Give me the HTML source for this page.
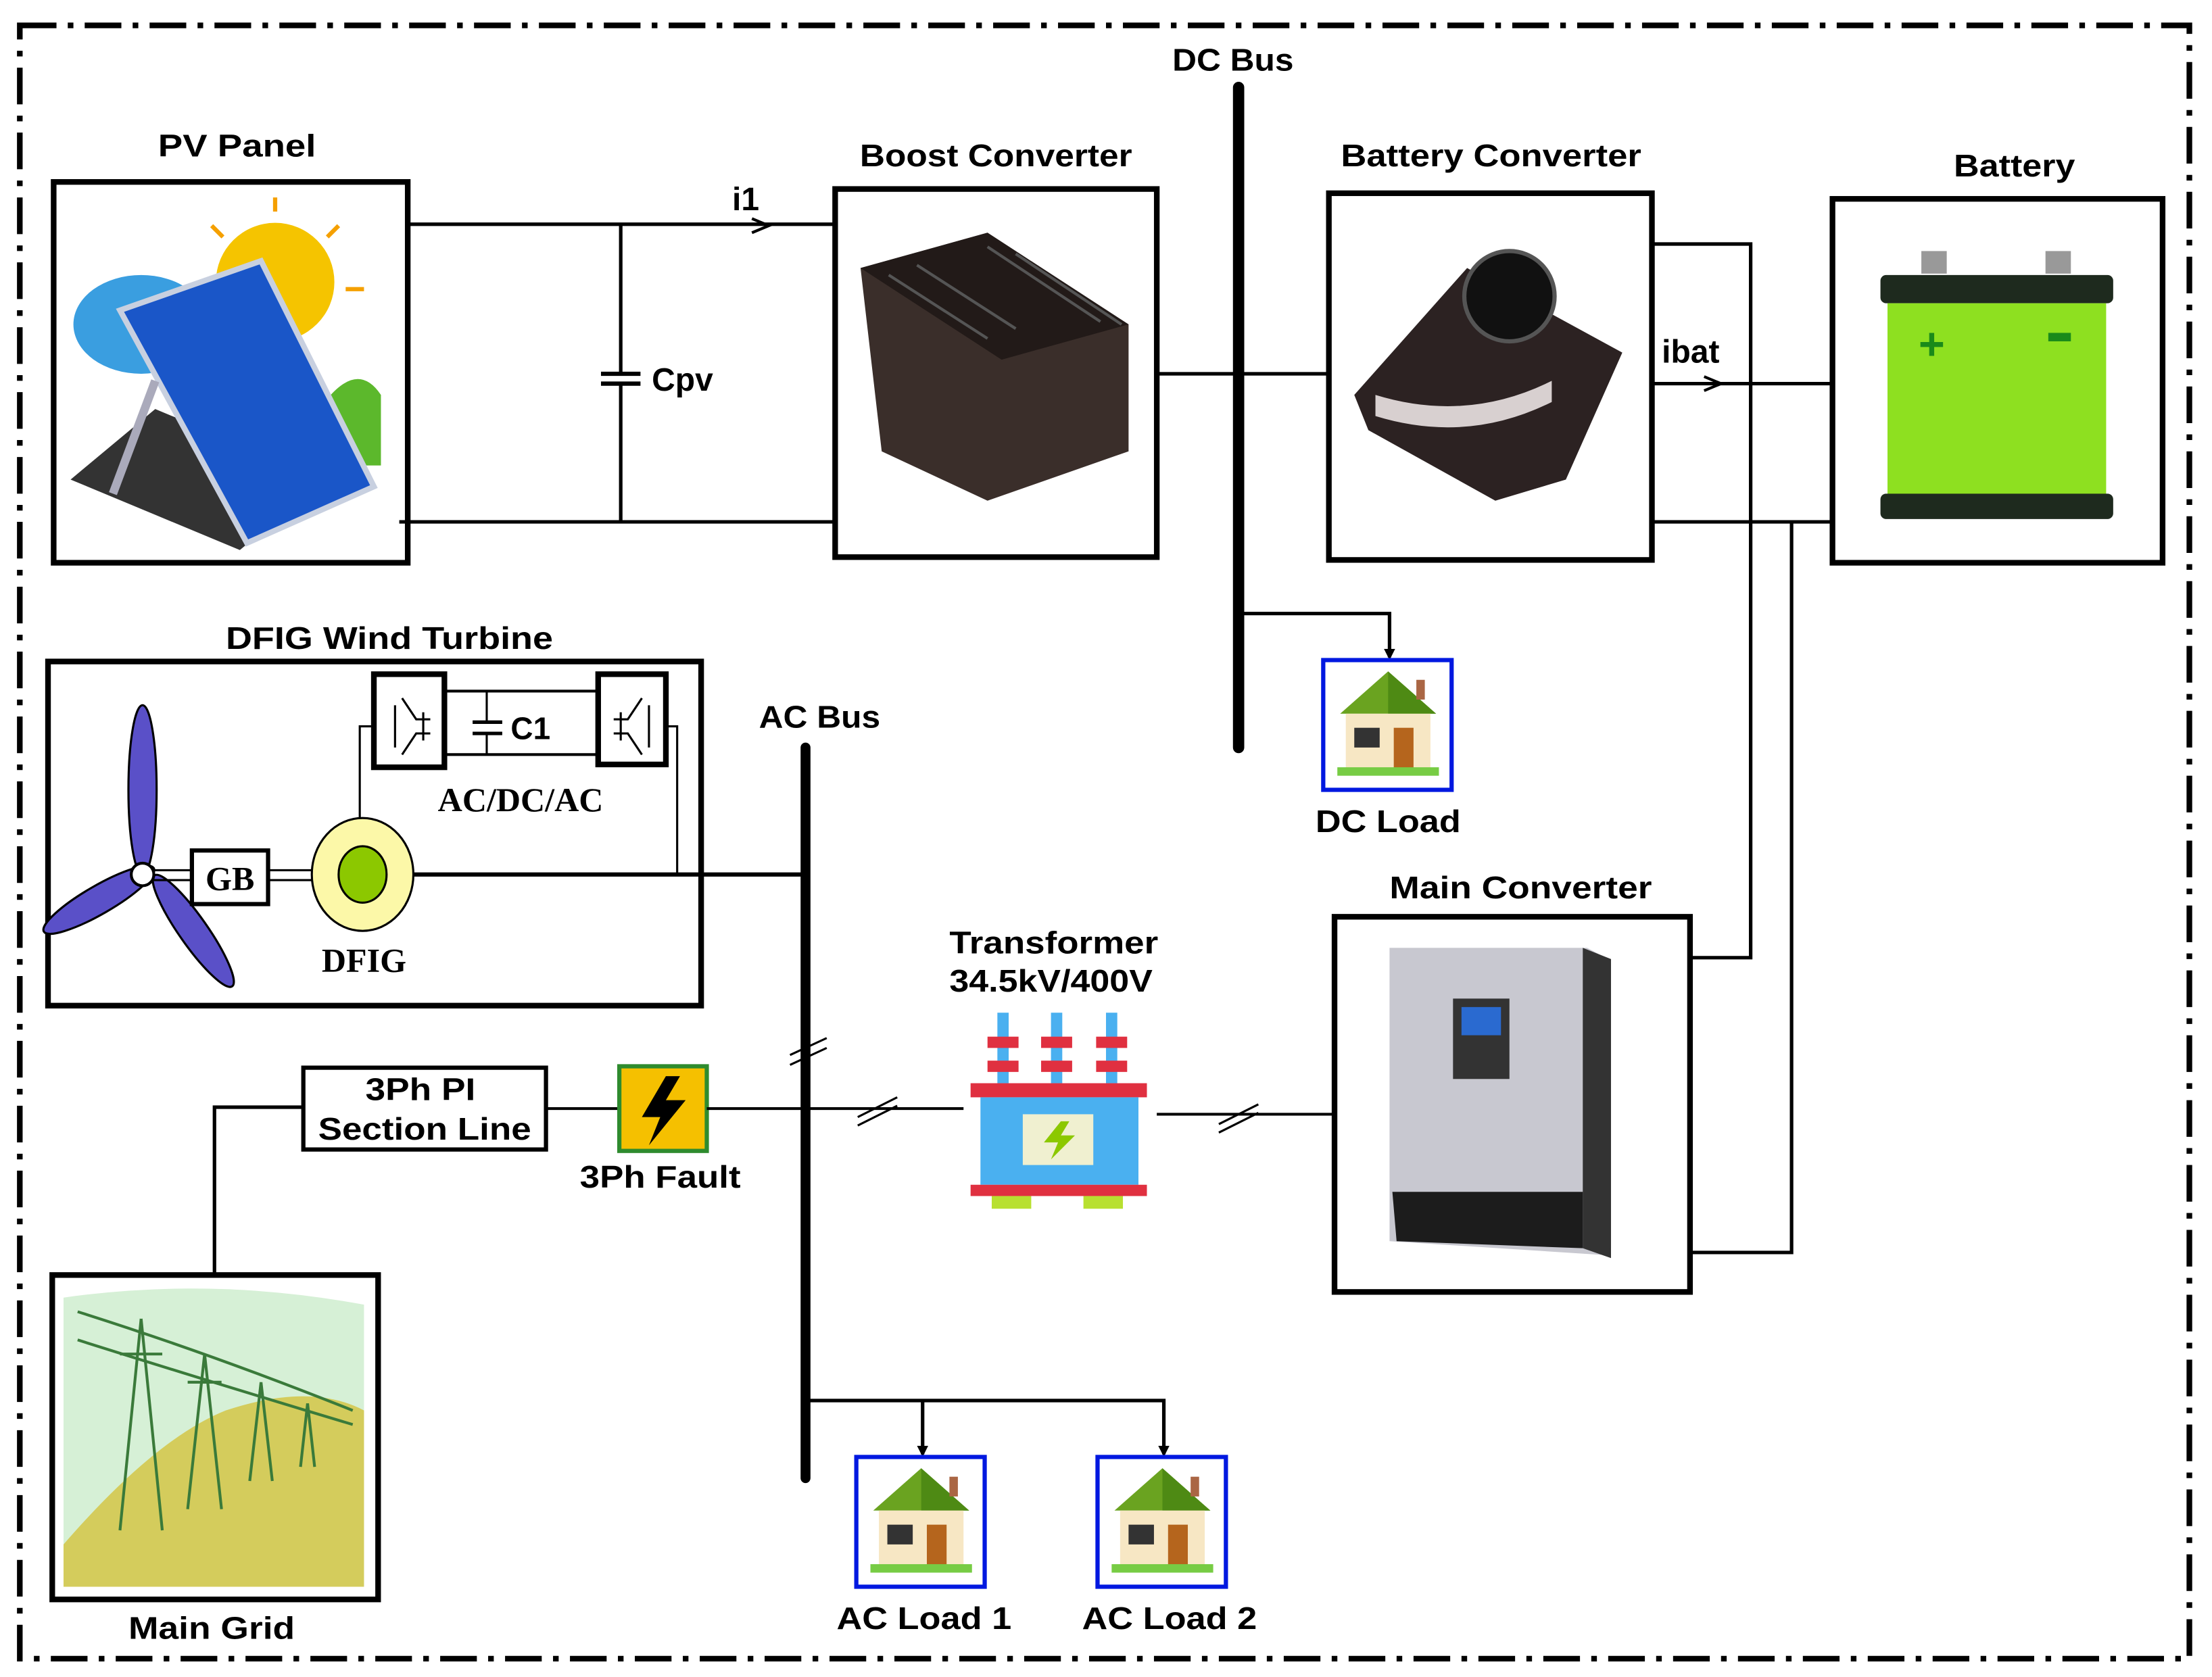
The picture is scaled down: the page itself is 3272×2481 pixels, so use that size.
<!DOCTYPE html>
<html><head><meta charset="utf-8"><style>
html,body{margin:0;padding:0;background:#fff;}
svg{display:block;}
text{font-family:"Liberation Sans",sans-serif;font-weight:bold;fill:#000;}
</style></head><body>
<svg width="3272" height="2481" viewBox="0 0 1568 1189" xmlns="http://www.w3.org/2000/svg">
<defs>
<marker id="ar" markerWidth="8" markerHeight="8" refX="6" refY="4" orient="auto" markerUnits="userSpaceOnUse"><path d="M0,0 L8,4 L0,8 z" fill="#000"/></marker>
<g id="house">
<rect x="0" y="0" width="91" height="92" fill="#fff" stroke="#0018e0" stroke-width="3"/>
<polygon points="46,8 12,38 80,38" fill="#6aa320"/>
<polygon points="46,8 46,38 80,38" fill="#4e8a14"/>
<rect x="66" y="14" width="6" height="14" fill="#a64"/>
<rect x="16" y="38" width="60" height="40" fill="#f7e7c4"/>
<rect x="22" y="48" width="18" height="14" fill="#333"/>
<rect x="50" y="48" width="14" height="30" fill="#b5651d"/>
<rect x="10" y="76" width="72" height="6" fill="#7c4"/>
</g>
</defs>
<rect x="14" y="18" width="1538" height="1158" fill="none" stroke="#000" stroke-width="4" stroke-dasharray="26,8,4,8"/>

<text x="168" y="111" font-size="22" text-anchor="middle" textLength="112" lengthAdjust="spacingAndGlyphs">PV Panel</text>
<rect x="38" y="129" width="251" height="270" fill="#fff" stroke="#000" stroke-width="4"/>
<circle cx="195" cy="200" r="42" fill="#f5c400"/>
<g stroke="#f5a000" stroke-width="3"><line x1="195" y1="140" x2="195" y2="150"/><line x1="240" y1="160" x2="232" y2="168"/><line x1="258" y1="205" x2="245" y2="205"/><line x1="150" y1="160" x2="158" y2="168"/></g>
<ellipse cx="100" cy="230" rx="48" ry="35" fill="#3a9ee0"/>
<path d="M220,300 Q250,250 270,280 L270,330 L220,330z" fill="#5cb82c"/>
<polygon points="50,340 110,290 230,340 170,390" fill="#333"/>
<polygon points="85,220 185,185 265,345 175,385" fill="#1a56c8" stroke="#c8d0e0" stroke-width="4"/>
<line x1="110" y1="270" x2="80" y2="350" stroke="#aab" stroke-width="6"/>

<line x1="289" y1="159" x2="592" y2="159" stroke="#000" stroke-width="2.5"/>
<line x1="283" y1="370" x2="592" y2="370" stroke="#000" stroke-width="2.5"/>
<line x1="440" y1="159" x2="440" y2="265" stroke="#000" stroke-width="2.5"/>
<line x1="440" y1="272" x2="440" y2="370" stroke="#000" stroke-width="2.5"/>
<line x1="426" y1="265" x2="454" y2="265" stroke="#000" stroke-width="3"/>
<line x1="426" y1="272" x2="454" y2="272" stroke="#000" stroke-width="3"/>
<text x="462" y="277" font-size="23">Cpv</text>
<text x="519" y="149" font-size="23">i1</text>
<path d="M533,155 L545,160 L533,165" fill="none" stroke="#000" stroke-width="2"/>

<text x="706" y="118" font-size="22" text-anchor="middle" textLength="193" lengthAdjust="spacingAndGlyphs">Boost Converter</text>
<rect x="592" y="134" width="228" height="261" fill="#fff" stroke="#000" stroke-width="4"/>
<polygon points="610,190 700,165 800,230 800,320 700,355 625,320" fill="#3a2e2a"/>
<polygon points="610,190 700,165 800,230 710,255" fill="#221a18"/>
<g stroke="#555" stroke-width="2"><line x1="630" y1="195" x2="700" y2="240"/><line x1="650" y1="188" x2="720" y2="233"/><line x1="700" y1="175" x2="780" y2="228"/><line x1="720" y1="180" x2="795" y2="230"/></g>

<text x="874" y="50" font-size="22" text-anchor="middle" textLength="86" lengthAdjust="spacingAndGlyphs">DC Bus</text>
<line x1="878" y1="62" x2="878" y2="530" stroke="#000" stroke-width="8" stroke-linecap="round"/>
<line x1="820" y1="265" x2="942" y2="265" stroke="#000" stroke-width="2.5"/>

<text x="1057" y="118" font-size="22" text-anchor="middle" textLength="213" lengthAdjust="spacingAndGlyphs">Battery Converter</text>
<rect x="942" y="137" width="229" height="260" fill="#fff" stroke="#000" stroke-width="4"/>
<polygon points="960,280 1040,190 1150,250 1110,340 1060,355 970,305" fill="#2c2222"/>
<circle cx="1070" cy="210" r="32" fill="#111" stroke="#555" stroke-width="3"/>
<path d="M975,280 Q1040,300 1100,270 L1100,285 Q1040,315 975,295z" fill="#d8d0d0"/>

<polyline points="1171,173 1241,173 1241,679 1198,679" fill="none" stroke="#000" stroke-width="2.5"/>
<line x1="1171" y1="272" x2="1303" y2="272" stroke="#000" stroke-width="2.5"/>
<line x1="1171" y1="370" x2="1303" y2="370" stroke="#000" stroke-width="2.5"/>
<polyline points="1270,370 1270,888 1198,888" fill="none" stroke="#000" stroke-width="2.5"/>
<text x="1178" y="257" font-size="23">ibat</text>
<path d="M1208,267 L1220,272 L1208,277" fill="none" stroke="#000" stroke-width="2"/>

<text x="1428" y="125" font-size="22" text-anchor="middle" textLength="86" lengthAdjust="spacingAndGlyphs">Battery</text>
<rect x="1299" y="141" width="234" height="258" fill="#fff" stroke="#000" stroke-width="4"/>
<rect x="1362" y="178" width="18" height="16" fill="#999"/>
<rect x="1450" y="178" width="18" height="16" fill="#999"/>
<rect x="1333" y="195" width="165" height="20" rx="4" fill="#1e2a1e"/>
<rect x="1338" y="215" width="155" height="136" fill="#8ee020"/>
<rect x="1333" y="350" width="165" height="18" rx="4" fill="#1e2a1e"/>
<text x="1360" y="255" font-size="32" style="fill:#1a8a1a">+</text>
<rect x="1452" y="236" width="16" height="6" fill="#1a8a1a"/>

<polyline points="878,435 985,435 985,466" fill="none" stroke="#000" stroke-width="2.5" marker-end="url(#ar)"/>
<use href="#house" x="938" y="468"/>
<text x="984" y="590" font-size="22" text-anchor="middle" textLength="103" lengthAdjust="spacingAndGlyphs">DC Load</text>

<text x="276" y="460" font-size="22" text-anchor="middle" textLength="232" lengthAdjust="spacingAndGlyphs">DFIG Wind Turbine</text>
<rect x="34" y="469" width="463" height="244" fill="#fff" stroke="#000" stroke-width="4"/>
<rect x="265" y="478" width="50" height="66" fill="#fff" stroke="#000" stroke-width="4"/>
<rect x="424" y="478" width="48" height="64" fill="#fff" stroke="#000" stroke-width="4"/>
<line x1="315" y1="490" x2="424" y2="490" stroke="#000" stroke-width="2"/>
<line x1="315" y1="535" x2="424" y2="535" stroke="#000" stroke-width="2"/>
<line x1="345" y1="490" x2="345" y2="512" stroke="#000" stroke-width="1.5"/>
<line x1="345" y1="520" x2="345" y2="535" stroke="#000" stroke-width="1.5"/>
<line x1="335" y1="512" x2="356" y2="512" stroke="#000" stroke-width="2.5"/>
<line x1="335" y1="520" x2="356" y2="520" stroke="#000" stroke-width="2.5"/>
<text x="362" y="524" font-size="22">C1</text>
<text x="369" y="575" font-size="24" text-anchor="middle" style="font-family:'Liberation Serif',serif">AC/DC/AC</text>
<polyline points="265,515 255,515 255,590" fill="none" stroke="#000" stroke-width="1.5"/>
<polyline points="472,515 480,515 480,620" fill="none" stroke="#000" stroke-width="1.5"/>
<path d="M280,500 L280,530 M285,495 L295,510 L305,510 M285,535 L295,520 L305,520 M300,505 L300,525" stroke="#000" stroke-width="1.5" fill="none"/>
<path d="M460,500 L460,530 M455,495 L445,510 L435,510 M455,535 L445,520 L435,520 M440,505 L440,525" stroke="#000" stroke-width="1.5" fill="none"/>
<ellipse cx="101" cy="560" rx="10" ry="60" fill="#5a50c8" stroke="#000" stroke-width="1.5"/>
<ellipse cx="70" cy="638" rx="10" ry="45" transform="rotate(60 70 638)" fill="#5a50c8" stroke="#000" stroke-width="1.5"/>
<ellipse cx="137" cy="660" rx="10" ry="48" transform="rotate(-35 137 660)" fill="#5a50c8" stroke="#000" stroke-width="1.5"/>
<circle cx="101" cy="620" r="8" fill="#fff" stroke="#000" stroke-width="2"/>
<line x1="109" y1="617" x2="136" y2="617" stroke="#000" stroke-width="1.5"/>
<line x1="109" y1="624" x2="136" y2="624" stroke="#000" stroke-width="1.5"/>
<rect x="136" y="603" width="54" height="38" fill="#fff" stroke="#000" stroke-width="3"/>
<text x="163" y="631" font-size="24" text-anchor="middle" style="font-family:'Liberation Serif',serif">GB</text>
<line x1="190" y1="617" x2="222" y2="617" stroke="#000" stroke-width="1.5"/>
<line x1="190" y1="624" x2="222" y2="624" stroke="#000" stroke-width="1.5"/>
<ellipse cx="257" cy="620" rx="36" ry="40" fill="#fcf8a8" stroke="#000" stroke-width="1.5"/>
<ellipse cx="257" cy="620" rx="17" ry="20" fill="#8cc800" stroke="#000" stroke-width="1.5"/>
<text x="258" y="689" font-size="24" text-anchor="middle" style="font-family:'Liberation Serif',serif">DFIG</text>

<text x="581" y="516" font-size="22" text-anchor="middle" textLength="86" lengthAdjust="spacingAndGlyphs">AC Bus</text>
<line x1="571" y1="530" x2="571" y2="1048" stroke="#000" stroke-width="7" stroke-linecap="round"/>
<line x1="293" y1="620" x2="571" y2="620" stroke="#000" stroke-width="3"/>
<line x1="560" y1="748" x2="586" y2="736" stroke="#000" stroke-width="1.5"/>
<line x1="560" y1="755" x2="586" y2="743" stroke="#000" stroke-width="1.5"/>

<rect x="215" y="757" width="172" height="58" fill="#fff" stroke="#000" stroke-width="3"/>
<text x="298" y="780" font-size="22" text-anchor="middle" textLength="78" lengthAdjust="spacingAndGlyphs">3Ph PI</text>
<text x="301" y="808" font-size="22" text-anchor="middle" textLength="151" lengthAdjust="spacingAndGlyphs">Section Line</text>
<polyline points="215,785 152,785 152,905" fill="none" stroke="#000" stroke-width="2.5"/>
<line x1="387" y1="786" x2="438" y2="786" stroke="#000" stroke-width="2"/>
<rect x="439" y="756" width="62" height="60" fill="#f5c000" stroke="#2e8b2e" stroke-width="3"/>
<polygon points="472,763 455,792 468,792 460,812 486,780 472,780 482,763" fill="#000"/>
<text x="468" y="842" font-size="22" text-anchor="middle" textLength="114" lengthAdjust="spacingAndGlyphs">3Ph Fault</text>
<line x1="501" y1="786" x2="683" y2="786" stroke="#000" stroke-width="2"/>
<line x1="608" y1="792" x2="636" y2="778" stroke="#000" stroke-width="1.5"/>
<line x1="608" y1="798" x2="636" y2="784" stroke="#000" stroke-width="1.5"/>

<text x="747" y="676" font-size="22" text-anchor="middle" textLength="148" lengthAdjust="spacingAndGlyphs">Transformer</text>
<text x="745" y="703" font-size="22" text-anchor="middle" textLength="144" lengthAdjust="spacingAndGlyphs">34.5kV/400V</text>
<g>
<rect x="707" y="718" width="8" height="50" fill="#4ab0f0"/><rect x="745" y="718" width="8" height="50" fill="#4ab0f0"/><rect x="784" y="718" width="8" height="50" fill="#4ab0f0"/>
<rect x="700" y="735" width="22" height="8" fill="#e03040"/><rect x="738" y="735" width="22" height="8" fill="#e03040"/><rect x="777" y="735" width="22" height="8" fill="#e03040"/>
<rect x="700" y="752" width="22" height="8" fill="#e03040"/><rect x="738" y="752" width="22" height="8" fill="#e03040"/><rect x="777" y="752" width="22" height="8" fill="#e03040"/>
<rect x="688" y="768" width="125" height="10" fill="#e03040"/>
<rect x="695" y="778" width="112" height="62" fill="#4ab0f0"/>
<rect x="725" y="790" width="50" height="36" fill="#f0f0d0"/>
<polygon points="752,795 740,810 750,810 745,822 762,805 752,805 758,795" fill="#8cc800"/>
<rect x="688" y="840" width="125" height="8" fill="#e03040"/>
<rect x="703" y="848" width="28" height="9" fill="#b8e030"/><rect x="768" y="848" width="28" height="9" fill="#b8e030"/>
</g>
<line x1="820" y1="790" x2="946" y2="790" stroke="#000" stroke-width="2"/>
<line x1="864" y1="797" x2="892" y2="783" stroke="#000" stroke-width="1.5"/>
<line x1="864" y1="803" x2="892" y2="789" stroke="#000" stroke-width="1.5"/>

<text x="1078" y="637" font-size="22" text-anchor="middle" textLength="186" lengthAdjust="spacingAndGlyphs">Main Converter</text>
<rect x="946" y="650" width="252" height="266" fill="#fff" stroke="#000" stroke-width="4"/>
<polygon points="985,672 1125,672 1140,680 1140,890 985,880" fill="#c8c8d0"/>
<polygon points="1122,672 1142,680 1142,892 1122,885" fill="#333"/>
<polygon points="987,845 1122,845 1122,885 990,880" fill="#1c1c1c"/>
<rect x="1030" y="708" width="40" height="57" fill="#333"/>
<rect x="1036" y="714" width="28" height="20" fill="#2a6ad0"/>

<rect x="37" y="904" width="231" height="230" fill="#fff" stroke="#000" stroke-width="4"/>
<path d="M45,920 Q150,905 258,925 L258,1125 L45,1125z" fill="#d6f0d6"/>
<path d="M45,1095 Q110,1020 160,1000 Q220,980 258,1000 L258,1125 L45,1125z" fill="#d4cc5c"/>
<g stroke="#3a7a3a" stroke-width="2" fill="none">
<path d="M100,935 L85,1085 M100,935 L115,1085 M85,960 L115,960"/>
<path d="M145,960 L133,1070 M145,960 L157,1070 M133,980 L157,980"/>
<path d="M185,980 L177,1050 M185,980 L193,1050"/>
<path d="M218,995 L213,1040 M218,995 L223,1040"/>
<path d="M55,930 Q150,960 250,1000 M55,950 Q150,980 250,1010"/>
</g>
<text x="150" y="1162" font-size="22" text-anchor="middle" textLength="118" lengthAdjust="spacingAndGlyphs">Main Grid</text>

<polyline points="571,993 825,993 825,1031" fill="none" stroke="#000" stroke-width="2.5" marker-end="url(#ar)"/>
<line x1="654" y1="993" x2="654" y2="1031" stroke="#000" stroke-width="2.5" marker-end="url(#ar)"/>
<use href="#house" x="607" y="1033"/>
<use href="#house" x="778" y="1033"/>
<text x="655" y="1155" font-size="22" text-anchor="middle" textLength="124" lengthAdjust="spacingAndGlyphs">AC Load 1</text>
<text x="829" y="1155" font-size="22" text-anchor="middle" textLength="124" lengthAdjust="spacingAndGlyphs">AC Load 2</text>
</svg>
</body></html>
